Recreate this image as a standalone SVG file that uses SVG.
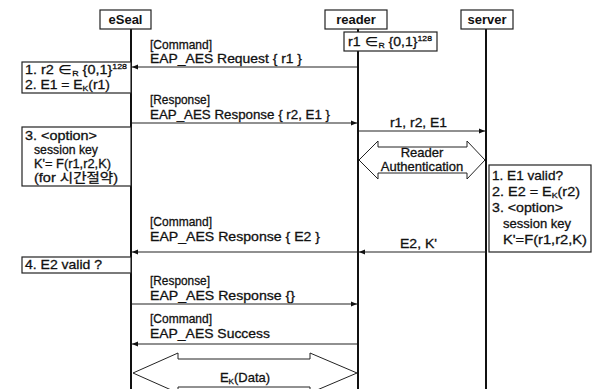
<svg xmlns="http://www.w3.org/2000/svg" width="596" height="389" viewBox="0 0 596 389">
<defs>
<marker id="ah" markerWidth="7" markerHeight="6" refX="6" refY="3" orient="auto" markerUnits="userSpaceOnUse"><path d="M0,0.5 L6,3 L0,5.5 z" fill="#111"/></marker>
</defs>
<style>
text{font-family:"Liberation Sans","Noto Sans CJK KR",Arial,sans-serif;font-size:13px;fill:#111;stroke:#111;stroke-width:0.3}
.c{text-anchor:middle}
.h{font-weight:bold;stroke-width:0}
.s{font-size:8px}
.box{fill:#fff;stroke:#222;stroke-width:1.2}
.life{stroke:#111;stroke-width:2;fill:none}
.msg{stroke:#222;stroke-width:1.2;fill:none;marker-end:url(#ah)}
.shape{fill:#fff;stroke:#222;stroke-width:1}
</style>
<rect width="596" height="389" fill="#fff"/>
<g id="lifelines">
<line class="life" x1="131" y1="29" x2="131" y2="389"/>
<line class="life" x1="358" y1="29" x2="358" y2="32"/>
<line class="life" x1="358" y1="51" x2="358" y2="389"/>
<line class="life" x1="486" y1="29" x2="486" y2="389"/>
</g>
<g id="eSeal"><rect class="box" x="100" y="10" width="51" height="19"/><text class="c h" x="125.5" y="24">eSeal</text></g>
<g id="reader"><rect class="box" x="325" y="10" width="62" height="19"/><text class="c h" x="356" y="24">reader</text></g>
<g id="server"><rect class="box" x="461" y="10" width="52" height="19"/><text class="c h" x="487" y="24">server</text></g>
<g id="r1gen"><rect class="box" x="344" y="32" width="93" height="19"/><text x="348" y="46" textLength="84" lengthAdjust="spacingAndGlyphs">r1 ∈<tspan class="s" dy="1.5">R</tspan><tspan dy="-1.5"> {0,1}</tspan><tspan class="s" dy="-5">128</tspan></text></g>
<g id="note1"><rect class="box" x="22" y="62" width="109" height="31"/>
<text x="25" y="74" textLength="102" lengthAdjust="spacingAndGlyphs">1. r2 ∈<tspan class="s" dy="1.5">R</tspan><tspan dy="-1.5"> {0,1}</tspan><tspan class="s" dy="-5">128</tspan></text>
<text x="25" y="89" textLength="85" lengthAdjust="spacingAndGlyphs">2. E1 = E<tspan class="s" dy="2">K</tspan><tspan dy="-2">(r1)</tspan></text></g>
<g id="note3"><rect class="box" x="22" y="127" width="109" height="59"/>
<text x="25" y="140" textLength="72" lengthAdjust="spacingAndGlyphs">3. &lt;option&gt;</text>
<text x="34" y="154" textLength="64" lengthAdjust="spacingAndGlyphs">session key</text>
<text x="34" y="168" textLength="77" lengthAdjust="spacingAndGlyphs">K'= F(r1,r2,K)</text>
<text x="34" y="182" textLength="84" lengthAdjust="spacingAndGlyphs">(for 시간절약)</text></g>
<g id="note4"><rect class="box" x="22" y="257" width="109" height="16"/><text x="25" y="269" textLength="77" lengthAdjust="spacingAndGlyphs">4. E2 valid ?</text></g>
<g id="note5"><rect class="box" x="489" y="165" width="102" height="87"/>
<text x="492" y="180" textLength="71" lengthAdjust="spacingAndGlyphs">1. E1 valid?</text>
<text x="492" y="196" textLength="88" lengthAdjust="spacingAndGlyphs">2. E2 = E<tspan class="s" dy="2">K</tspan><tspan dy="-2">(r2)</tspan></text>
<text x="492" y="212" textLength="71" lengthAdjust="spacingAndGlyphs">3. &lt;option&gt;</text>
<text x="503" y="228" textLength="68" lengthAdjust="spacingAndGlyphs">session key</text>
<text x="503" y="244" textLength="84" lengthAdjust="spacingAndGlyphs">K'=F(r1,r2,K)</text></g>
<g id="auth"><polygon class="shape" points="359,160 378,141 378,147 467,147 467,141 485,160 467,179 467,173 378,173 378,179"/>
<text class="c" x="422" y="157">Reader</text><text class="c" x="422" y="171">Authentication</text></g>
<g id="data"><polygon class="shape" points="133,373 178,353 178,359 310,359 310,353 357,373 310,393 310,387 178,387 178,393"/>
<text class="c" x="245" y="382">E<tspan class="s" dy="2">K</tspan><tspan dy="-2">(Data)</tspan></text></g>
<g id="connectors">
<line class="msg" x1="357" y1="67" x2="132" y2="67"/>
<line class="msg" x1="132" y1="123" x2="357" y2="123"/>
<line class="msg" x1="359" y1="131" x2="485" y2="131"/>
<line class="msg" x1="357" y1="252" x2="132" y2="252"/>
<line class="msg" x1="486" y1="252" x2="359" y2="252"/>
<line class="msg" x1="132" y1="304" x2="357" y2="304"/>
<line class="msg" x1="357" y1="344" x2="132" y2="344"/>
<text x="150" y="49" textLength="62" lengthAdjust="spacingAndGlyphs">[Command]</text>
<text x="150" y="63" textLength="152" lengthAdjust="spacingAndGlyphs">EAP_AES Request { r1 }</text>
<text x="150" y="104" textLength="60" lengthAdjust="spacingAndGlyphs">[Response]</text>
<text x="150" y="119" textLength="180" lengthAdjust="spacingAndGlyphs">EAP_AES Response { r2, E1 }</text>
<text x="390" y="127" textLength="57" lengthAdjust="spacingAndGlyphs">r1, r2, E1</text>
<text x="150" y="226" textLength="62" lengthAdjust="spacingAndGlyphs">[Command]</text>
<text x="150" y="241" textLength="170" lengthAdjust="spacingAndGlyphs">EAP_AES Response { E2 }</text>
<text x="400" y="248" textLength="37" lengthAdjust="spacingAndGlyphs">E2, K'</text>
<text x="150" y="285" textLength="60" lengthAdjust="spacingAndGlyphs">[Response]</text>
<text x="150" y="300" textLength="145" lengthAdjust="spacingAndGlyphs">EAP_AES Response {}</text>
<text x="150" y="323" textLength="62" lengthAdjust="spacingAndGlyphs">[Command]</text>
<text x="150" y="338" textLength="120" lengthAdjust="spacingAndGlyphs">EAP_AES Success</text>
</g>
</svg>
